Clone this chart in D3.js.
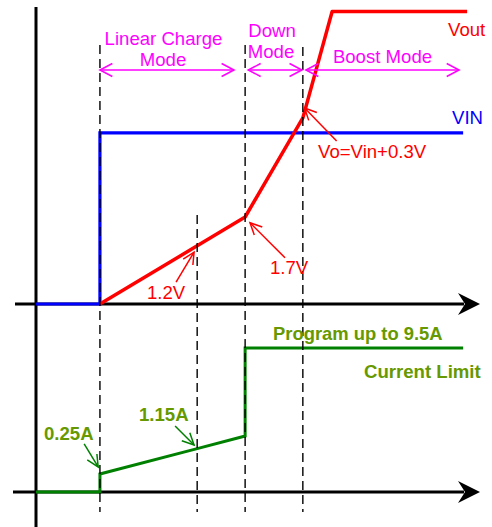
<!DOCTYPE html>
<html>
<head>
<meta charset="utf-8">
<script src="https://cdn.jsdelivr.net/npm/d3@7"></script>
<style>
  html, body { margin: 0; padding: 0; background: #fff; }
  svg { display: block; }
  text { font-family: "Liberation Sans", Arial, sans-serif; }
</style>
</head>
<body>
<svg id="chart" width="492" height="527"></svg>
<script>
// ---- data -------------------------------------------------------------
// time axis in arbitrary units (0 = origin, 100 = arrow tip)
const phaseT = [14.4, 36.3, 47.1, 60.1];          // dashed phase boundaries
const phaseTop = [45, 215, 45, 47];               // top of each dashed guide (px layout)

// output voltage (V) vs time
const voutT = [14.4, 36.3, 47.1, 60.1, 66.7, 97.1];
const voutV = [0, 1.2, 1.7, 3.7, 5.85, 5.85];

// input voltage (V) vs time
const vinT = [0, 14.4, 14.4, 96.2];
const vinV = [0, 0, 3.4, 3.4];

// current limit (A) vs time
const ilimT = [0, 14.4, 14.4, 36.3, 47.1, 47.1, 96.2];
const ilimA = [0, 0, 0.25, 1.15, 1.6, 9.5, 9.5];

// mode spans (time) and names
const modeNames = [["Linear Charge", "Mode"], ["Down", "Mode"], ["Boost Mode"]];
const modeSpan = [[14.4, 44.6], [47.8, 59.9], [60.8, 95.3]];

// ---- layout -----------------------------------------------------------
const svg = d3.select("#chart");
const x = d3.scaleLinear().domain([0, 100]).range([36, 480]);
// piecewise scales: schematic, not to scale
const yV = d3.scaleLinear().domain([0, 1.2, 1.7, 6]).range([304, 245.8, 217, 4]);
const yI = d3.scaleLinear().domain([0, 0.25, 1.6, 9.5]).range([492, 474, 436, 348]);

const RED = "#ff0000", BLUE = "#0000ff", GREEN = "#008000",
      OLIVE = "#669900", MAGENTA = "#ff00ff";
const FS = 18.6;

// ---- axes -------------------------------------------------------------
function hAxis(y, x0) {
  const tip = x(100);
  svg.append("line").attr("x1", x0).attr("x2", tip - 16).attr("y1", y).attr("y2", y)
    .attr("stroke", "#000").attr("stroke-width", 3);
  svg.append("path")
    .attr("d", `M${tip},${y} L${tip - 22},${y - 11} L${tip - 15},${y} L${tip - 22},${y + 11} Z`)
    .attr("fill", "#000");
}
hAxis(yV(0), 15);
hAxis(yI(0), 13);
svg.append("line").attr("x1", x(0)).attr("x2", x(0)).attr("y1", 7).attr("y2", 527)
  .attr("stroke", "#000").attr("stroke-width", 3);

// ---- series -----------------------------------------------------------
const line = (ys) => d3.line().x(d => x(d[0])).y(d => ys(d[1]));

svg.append("path").datum(d3.zip(vinT, vinV)).attr("d", line(yV))
  .attr("fill", "none").attr("stroke", BLUE).attr("stroke-width", 3.2);
svg.append("path").datum(d3.zip(voutT, voutV)).attr("d", line(yV))
  .attr("fill", "none").attr("stroke", RED).attr("stroke-width", 3.5)
  .attr("stroke-linejoin", "round");
svg.append("path").datum(d3.zip(ilimT, ilimA)).attr("d", line(yI))
  .attr("fill", "none").attr("stroke", GREEN).attr("stroke-width", 3);

// dashed phase guides
phaseT.forEach((t, i) => {
  svg.append("line").attr("x1", x(t)).attr("x2", x(t))
    .attr("y1", phaseTop[i]).attr("y2", 512)
    .attr("stroke", "#000").attr("stroke-width", 1.4).attr("stroke-dasharray", "9,5");
});

// ---- annotations ------------------------------------------------------
function arrowHead(g, tx, ty, ang, len, spread, color, w) {
  const a1 = ang + Math.PI - spread, a2 = ang + Math.PI + spread;
  g.append("path")
    .attr("d", `M${tx + len * Math.cos(a1)},${ty + len * Math.sin(a1)} L${tx},${ty} L${tx + len * Math.cos(a2)},${ty + len * Math.sin(a2)}`)
    .attr("fill", "none").attr("stroke", color).attr("stroke-width", w);
}
function pointer(tx, ty, dx, dy, color) {
  const sx = tx + dx, sy = ty + dy;
  svg.append("line").attr("x1", sx).attr("y1", sy).attr("x2", tx).attr("y2", ty)
    .attr("stroke", color).attr("stroke-width", 1.5);
  arrowHead(svg, tx, ty, Math.atan2(ty - sy, tx - sx), 13, 0.45, color, 1.5);
}

// mode spans
const modeY = 70;
modeSpan.forEach(([a, b]) => {
  const x1 = x(a), x2 = x(b);
  svg.append("line").attr("x1", x1).attr("x2", x2).attr("y1", modeY).attr("y2", modeY)
    .attr("stroke", MAGENTA).attr("stroke-width", 1.5);
  arrowHead(svg, x1, modeY, Math.PI, 14, 0.48, MAGENTA, 1.5);
  arrowHead(svg, x2, modeY, 0, 14, 0.48, MAGENTA, 1.5);
});
const modeText = (s, cx, by) => svg.append("text").attr("x", cx).attr("y", by)
  .attr("text-anchor", "middle").attr("fill", MAGENTA).attr("font-size", FS).text(s);
modeText(modeNames[0][0], 163.5, 45);
modeText(modeNames[0][1], 163, 66);
modeText(modeNames[1][0], 272, 37);
modeText(modeNames[1][1], 271, 58);
modeText(modeNames[2][0], 382.5, 63);

// voltage labels
const label = (s, xx, yy, color, size, bold) => svg.append("text")
  .attr("x", xx).attr("y", yy).attr("fill", color).attr("font-size", size)
  .attr("font-weight", bold ? "bold" : "normal").text(s);

label("Vout", 448, 36, RED, FS);
label("VIN", 452, 124, BLUE, FS);
label("Vo=Vin+0.3V", 318, 158, RED, FS);
label("1.7V", 270, 274, RED, FS);
label("1.2V", 147, 299, RED, FS);

pointer(x(60.5), yV(3.9), 32, 33, RED);
pointer(x(48.2), yV(1.6), 35, 35, RED);
pointer(x(35.6), yV(1.07), -18, 30, RED);

// current labels
label("0.25A", 44, 440, OLIVE, FS, true);
label("1.15A", 139, 421, OLIVE, FS, true);
label("Program up to 9.5A", 273, 340, OLIVE, 18.4, true);
label("Current Limit", 364, 378, OLIVE, FS, true);

pointer(x(14), yI(0.5), -14, -23, GREEN);
pointer(x(35.6), yI(1.28), -19, -19, GREEN);
</script>
</body>
</html>
